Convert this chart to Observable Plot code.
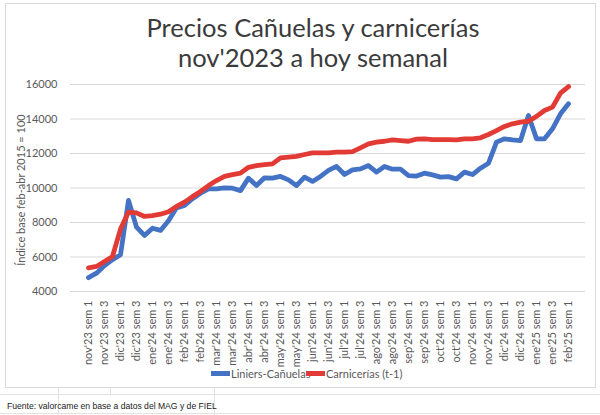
<!DOCTYPE html>
<html><head><meta charset="utf-8">
<script src="https://cdn.jsdelivr.net/npm/d3@7"></script>
<script src="https://cdn.jsdelivr.net/npm/@observablehq/plot@0.6"></script>
<style>
body{margin:0;background:#fff;}
#wrap{position:relative;width:600px;height:415px;overflow:hidden;font-family:Lato,"Open Sans",sans-serif;background:#fff;}
#frame{position:absolute;left:5px;top:3px;width:591px;height:385px;border:1px solid #d9d9d9;box-sizing:border-box;}
#title{position:absolute;left:13px;width:600px;top:12px;text-align:center;font-size:25.5px;line-height:30px;color:#3b3b3b;}
#chart{position:absolute;left:0;top:0;}
#ylab{position:absolute;left:20px;top:190px;transform:translate(-50%,-50%) rotate(-90deg);white-space:nowrap;font-size:11px;color:#595959;}
.leg{position:absolute;top:367px;font-size:11px;color:#595959;display:flex;align-items:center;white-space:nowrap;}
.sw{display:inline-block;width:19px;height:4.5px;margin-right:1px;}
#cap{position:absolute;left:7px;top:401px;font-family:"Liberation Sans",Arial,sans-serif;font-size:8.6px;color:#222;white-space:nowrap;}
.hl{position:absolute;left:0;width:600px;height:1px;background:#e3e3e3;}
.vl{position:absolute;width:1px;background:#e3e3e3;}
</style></head>
<body><div id="wrap">
<div class="hl" style="top:394px"></div>
<div class="hl" style="top:413px"></div>
<div class="vl" style="left:58px;top:388px;height:27px"></div>
<div class="vl" style="left:110px;top:388px;height:6px"></div>
<div class="vl" style="left:214px;top:388px;height:27px"></div>
<div id="frame"></div>
<div id="chart"></div>
<div id="title">Precios Cañuelas y carnicerías<br>nov'2023 a hoy semanal</div>
<div id="ylab">Índice base feb-abr 2015 = 100</div>
<div class="leg" style="left:211px"><span class="sw" style="background:#4472c4"></span>Liniers-Cañuelas</div>
<div class="leg" style="left:306px"><span class="sw" style="background:#e23b36"></span>Carnicerías (t-1)</div>
<div id="cap">Fuente: valorcame en base a datos del MAG y de FIEL</div>
</div>
<script>
const weeks = [
"nov'23 sem 1","nov'23 sem 2","nov'23 sem 3","nov'23 sem 4",
"dic'23 sem 1","dic'23 sem 2","dic'23 sem 3","dic'23 sem 4",
"ene'24 sem 1","ene'24 sem 2","ene'24 sem 3","ene'24 sem 4",
"feb'24 sem 1","feb'24 sem 2","feb'24 sem 3","feb'24 sem 4",
"mar'24 sem 1","mar'24 sem 2","mar'24 sem 3","mar'24 sem 4",
"abr'24 sem 1","abr'24 sem 2","abr'24 sem 3","abr'24 sem 4",
"may'24 sem 1","may'24 sem 2","may'24 sem 3","may'24 sem 4",
"jun'24 sem 1","jun'24 sem 2","jun'24 sem 3","jun'24 sem 4",
"jul'24 sem 1","jul'24 sem 2","jul'24 sem 3","jul'24 sem 4",
"ago'24 sem 1","ago'24 sem 2","ago'24 sem 3","ago'24 sem 4",
"sep'24 sem 1","sep'24 sem 2","sep'24 sem 3","sep'24 sem 4",
"oct'24 sem 1","oct'24 sem 2","oct'24 sem 3","oct'24 sem 4",
"nov'24 sem 1","nov'24 sem 2","nov'24 sem 3","nov'24 sem 4",
"dic'24 sem 1","dic'24 sem 2","dic'24 sem 3","dic'24 sem 4",
"ene'25 sem 1","ene'25 sem 2","ene'25 sem 3","ene'25 sem 4",
"feb'25 sem 1"
];
const liniers = [
4800,5060,5500,5850,6130,9280,7730,7250,7670,7540,
8100,8850,8990,9380,9700,9950,9950,10010,9990,9850,
10570,10140,10590,10570,10670,10470,10140,10630,10380,10670,
11020,11250,10780,11050,11110,11300,10920,11250,11090,11090,
10720,10690,10860,10760,10630,10660,10530,10920,10780,11150,
11440,12660,12850,12790,12750,14200,12850,12850,13430,14300,
14880
];
const carnicerias = [
5370,5450,5740,6030,7620,8600,8560,8350,8400,8480,
8620,8930,9180,9500,9800,10140,10430,10670,10780,10860,
11200,11300,11360,11400,11750,11790,11830,11940,12040,12040,
12040,12080,12080,12110,12330,12560,12660,12710,12790,12750,
12710,12830,12850,12810,12810,12810,12790,12850,12850,12910,
13100,13330,13570,13720,13820,13870,14150,14490,14690,15500,
15880
];
const yTicks = [4000,6000,8000,10000,12000,14000,16000];
const seriesNames = ["Liniers-Cañuelas","Carnicerías (t-1)"];
const seriesColors = ["#4472c4","#e23b36"];

const rows = [];
weeks.forEach((w,i)=>{
  rows.push({week:w, value:liniers[i], serie:seriesNames[0]});
});
weeks.forEach((w,i)=>{
  rows.push({week:w, value:carnicerias[i], serie:seriesNames[1]});
});
const xTicks = weeks.filter((d,i)=>i%2===0);

const chart = Plot.plot({
  width:600, height:370,
  marginLeft:70, marginRight:15, marginTop:84, marginBottom:79,
  style:{fontFamily:"Lato, 'Open Sans', sans-serif", fontSize:"11px", color:"#595959", background:"transparent"},
  x:{type:"point", domain:weeks, padding:0.4},
  y:{domain:[4000,16000]},
  color:{domain:seriesNames, range:seriesColors},
  marks:[
    Plot.gridY(yTicks,{stroke:"#d9d9d9", strokeOpacity:1, strokeWidth:1}),
    Plot.axisY(yTicks,{tickSize:0, tickPadding:13, label:null, tickFormat:d=>String(d), fill:"#595959"}),
    Plot.axisX(xTicks,{tickSize:0, tickPadding:9, tickRotate:-90, label:null, fill:"#595959"}),
    Plot.line(rows,{x:"week", y:"value", z:"serie", stroke:"serie", strokeWidth:4.8, strokeLinejoin:"round", strokeLinecap:"round"})
  ]
});
document.getElementById("chart").appendChild(chart);
</script>
</body></html>
